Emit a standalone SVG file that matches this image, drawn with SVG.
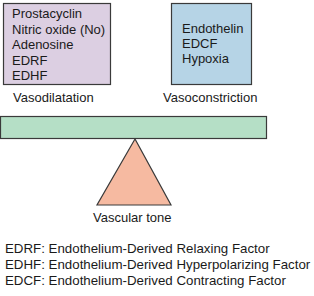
<svg xmlns="http://www.w3.org/2000/svg" width="314" height="296" viewBox="0 0 314 296">
<style>
text{font-family:"Liberation Sans",Arial,sans-serif;font-size:13px;fill:#1a1a1a}
.lg{font-size:13.3px}
.sh{stroke:#3a3a3a;stroke-width:1.2}
</style>
<rect width="314" height="296" fill="#fff"/>
<g id="dilators">
<rect class="sh" x="3.5" y="3.5" width="107" height="81" fill="#dccfe2"/>
<text x="12" y="18">Prostacyclin</text>
<text x="12" y="33.5">Nitric oxide (No)</text>
<text x="12" y="49">Adenosine</text>
<text x="12" y="64.5">EDRF</text>
<text x="12" y="80">EDHF</text>
</g>
<g id="constrictors">
<rect class="sh" x="171.5" y="3.5" width="80" height="81" fill="#b6d4e6"/>
<text x="182" y="33">Endothelin</text>
<text x="182" y="48">EDCF</text>
<text x="182" y="63">Hypoxia</text>
</g>
<text x="13" y="102">Vasodilatation</text>
<text x="163" y="102">Vasoconstriction</text>
<g id="beam">
<rect class="sh" x="0.5" y="116.5" width="266" height="22" fill="#b5dfc6"/>
</g>
<g id="fulcrum">
<polygon class="sh" points="135,139 97,205 171,205" fill="#f6baa1"/>
</g>
<text x="93" y="221.5">Vascular tone</text>
<g id="legend">
<text class="lg" x="5" y="253">EDRF: Endothelium-Derived Relaxing Factor</text>
<text class="lg" x="5" y="269">EDHF: Endothelium-Derived Hyperpolarizing Factor</text>
<text class="lg" x="5" y="285">EDCF: Endothelium-Derived Contracting Factor</text>
</g>
<g id="connectors"></g>
</svg>
